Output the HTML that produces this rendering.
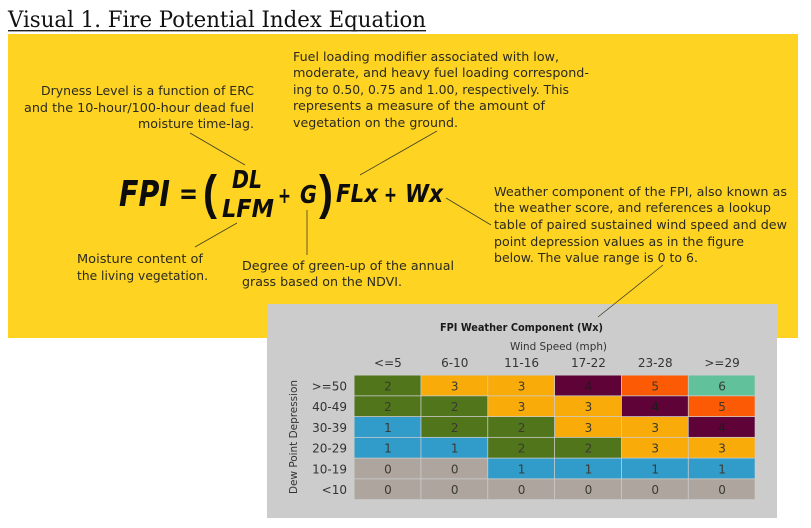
<!DOCTYPE html>
<html lang="en">
<head>
<meta charset="utf-8">
<title>Visual 1. Fire Potential Index Equation</title>
<style>
html,body{margin:0;padding:0;background:#fff;width:811px;height:528px;overflow:hidden}
svg{display:block}
text{font-family:"DejaVu Sans","Liberation Sans",sans-serif;fill:#2a2a20;font-size:12.5px}
.note{font-size:12.5px}
.eq{font-weight:bold;font-style:italic;fill:#0d0d0d;}
.lead{stroke:#3f3f25;stroke-width:.8;fill:none}
</style>
</head>
<body>
<svg id="chart" width="811" height="528" viewBox="0 0 811 528" xmlns="http://www.w3.org/2000/svg">
  <text x="8" y="27" textLength="418" lengthAdjust="spacingAndGlyphs" style="font-family:'DejaVu Serif','Liberation Serif',serif;font-size:22.5px;fill:#111">Visual 1. Fire Potential Index Equation</text>
  <rect x="8" y="30" width="418" height="1.4" fill="#222"/>
  <rect x="8" y="34" width="790" height="304" fill="#fed322"/>

  <g>
    <text class="note" x="41" y="95" textLength="213" lengthAdjust="spacingAndGlyphs">Dryness Level is a function of ERC</text>
    <text class="note" x="24" y="112" textLength="230" lengthAdjust="spacingAndGlyphs">and the 10-hour/100-hour dead fuel</text>
    <text class="note" x="138" y="128" textLength="116" lengthAdjust="spacingAndGlyphs">moisture time-lag.</text>
  </g>
  <g>
    <text class="note" x="293" y="61" textLength="266" lengthAdjust="spacingAndGlyphs">Fuel loading modifier associated with low,</text>
    <text class="note" x="293" y="77" textLength="296" lengthAdjust="spacingAndGlyphs">moderate, and heavy fuel loading correspond-</text>
    <text class="note" x="293" y="94" textLength="276" lengthAdjust="spacingAndGlyphs">ing to 0.50, 0.75 and 1.00, respectively. This</text>
    <text class="note" x="293" y="110" textLength="252" lengthAdjust="spacingAndGlyphs">represents a measure of the amount of</text>
    <text class="note" x="293" y="127" textLength="165" lengthAdjust="spacingAndGlyphs">vegetation on the ground.</text>
  </g>
  <g>
    <text class="note" x="494" y="196" textLength="293" lengthAdjust="spacingAndGlyphs">Weather component of the FPI, also known as</text>
    <text class="note" x="494" y="212" textLength="277" lengthAdjust="spacingAndGlyphs">the weather score, and references a lookup</text>
    <text class="note" x="494" y="229" textLength="293" lengthAdjust="spacingAndGlyphs">table of paired sustained wind speed and dew</text>
    <text class="note" x="494" y="246" textLength="250" lengthAdjust="spacingAndGlyphs">point depression values as in the figure</text>
    <text class="note" x="494" y="262" textLength="204" lengthAdjust="spacingAndGlyphs">below. The value range is 0 to 6.</text>
  </g>
  <g>
    <text class="note" x="77" y="263" textLength="126" lengthAdjust="spacingAndGlyphs">Moisture content of</text>
    <text class="note" x="77" y="280" textLength="131" lengthAdjust="spacingAndGlyphs">the living vegetation.</text>
  </g>
  <g>
    <text class="note" x="242" y="270" textLength="212" lengthAdjust="spacingAndGlyphs">Degree of green-up of the annual</text>
    <text class="note" x="242" y="286" textLength="160" lengthAdjust="spacingAndGlyphs">grass based on the NDVI.</text>
  </g>

  <g>
    <text class="eq" x="119" y="206" textLength="51" lengthAdjust="spacingAndGlyphs" style="font-size:36px">FPI</text>
    <text class="eq" x="179" y="203" textLength="19" lengthAdjust="spacingAndGlyphs" style="font-size:28px;font-style:normal">=</text>
    <text class="eq" x="203" y="209" textLength="14" lengthAdjust="spacingAndGlyphs" style="font-size:48px;font-style:normal;font-weight:bold;font-family:'Liberation Sans',sans-serif">(</text>
    <text class="eq" x="232" y="188" textLength="30" lengthAdjust="spacingAndGlyphs" style="font-size:25px">DL</text>
    <text class="eq" x="222" y="217" textLength="52" lengthAdjust="spacingAndGlyphs" style="font-size:25px">LFM</text>
    <text class="eq" x="278" y="203" textLength="13" lengthAdjust="spacingAndGlyphs" style="font-size:22px;font-style:normal">+</text>
    <text class="eq" x="300" y="203" textLength="17" lengthAdjust="spacingAndGlyphs" style="font-size:25px">G</text>
    <text class="eq" x="319" y="209" textLength="14" lengthAdjust="spacingAndGlyphs" style="font-size:48px;font-style:normal;font-weight:bold;font-family:'Liberation Sans',sans-serif">)</text>
    <text class="eq" x="336" y="202" textLength="42" lengthAdjust="spacingAndGlyphs" style="font-size:25px">FLx</text>
    <text class="eq" x="384" y="202" textLength="13" lengthAdjust="spacingAndGlyphs" style="font-size:22px;font-style:normal">+</text>
    <text class="eq" x="405" y="202" textLength="38" lengthAdjust="spacingAndGlyphs" style="font-size:25px">Wx</text>
  </g>

  <rect x="267" y="304" width="510" height="214" fill="#cccccc"/>

  <line class="lead" x1="190" y1="133" x2="245" y2="165"/>
  <line class="lead" x1="437" y1="131" x2="360" y2="175"/>
  <line class="lead" x1="237" y1="223" x2="195" y2="247"/>
  <line class="lead" x1="307" y1="210" x2="307" y2="255"/>
  <line class="lead" x1="446" y1="198" x2="491" y2="225"/>
  <line class="lead" x1="663" y1="265" x2="598" y2="317"/>

  <text x="440" y="331" textLength="163" lengthAdjust="spacingAndGlyphs" style="font-size:10.5px;font-weight:bold;fill:#1a1a1a">FPI Weather Component (Wx)</text>
  <text x="510" y="350" textLength="97" lengthAdjust="spacingAndGlyphs" style="font-size:10.5px;fill:#333">Wind Speed (mph)</text>
  <text transform="translate(297,494) rotate(-90)" textLength="114" lengthAdjust="spacingAndGlyphs" style="font-size:10.5px;fill:#333">Dew Point Depression</text>
  <g id="heatmap"></g>
</svg>
<script>
const windCategories = ['<=5', '6-10', '11-16', '17-22', '23-28', '>=29'];
const dewCategories = ['>=50', '40-49', '30-39', '20-29', '10-19', '<10'];
const row1Values = [2, 3, 3, 4, 5, 6];
const row2Values = [2, 2, 3, 3, 4, 5];
const row3Values = [1, 2, 2, 3, 3, 4];
const row4Values = [1, 1, 2, 2, 3, 3];
const row5Values = [0, 0, 1, 1, 1, 1];
const row6Values = [0, 0, 0, 0, 0, 0];
const scoreColors = ['#aea69e', '#319bc9', '#50751b', '#f9ab09', '#5f0237', '#fd5a05', '#61c19b'];

const NS = 'http://www.w3.org/2000/svg';
const plotLeft = 354.5, plotRight = 755.5, plotTop = 375.5, plotBottom = 500;
const rows = [row1Values, row2Values, row3Values, row4Values, row5Values, row6Values];
const bandX = i => plotLeft + i * (plotRight - plotLeft) / windCategories.length;
const bandY = i => plotTop + i * (plotBottom - plotTop) / dewCategories.length;
const bandW = (plotRight - plotLeft) / windCategories.length;
const bandH = (plotBottom - plotTop) / dewCategories.length;
const root = document.getElementById('heatmap');

function addText(str, x, y, anchor, size, fill) {
  const t = document.createElementNS(NS, 'text');
  t.setAttribute('x', x);
  t.setAttribute('y', y);
  t.setAttribute('text-anchor', anchor);
  t.setAttribute('style', 'font-size:' + size + 'px;fill:' + fill);
  t.textContent = str;
  root.appendChild(t);
  return t;
}

windCategories.forEach((label, i) => {
  const el = addText(label, bandX(i) + bandW / 2, 367, 'middle', 12, '#333');
  
  
});

dewCategories.forEach((label, r) => {
  const el = addText(label, 347, bandY(r) + bandH / 2 + 4.5, 'end', 12, '#333');
  
  
  rows[r].forEach((value, c) => {
    const cell = document.createElementNS(NS, 'rect');
    cell.setAttribute('x', bandX(c));
    cell.setAttribute('y', bandY(r));
    cell.setAttribute('width', bandW - 0.8);
    cell.setAttribute('height', bandH - 0.8);
    cell.setAttribute('fill', scoreColors[value]);
    
    
    root.appendChild(cell);
    const num = addText(String(value), bandX(c) + bandW / 2, bandY(r) + bandH / 2 + 4.5, 'middle', 12, value === 4 ? '#1c1c1c' : '#3a3a30');
    
    
  });
});
</script>
</body>
</html>
